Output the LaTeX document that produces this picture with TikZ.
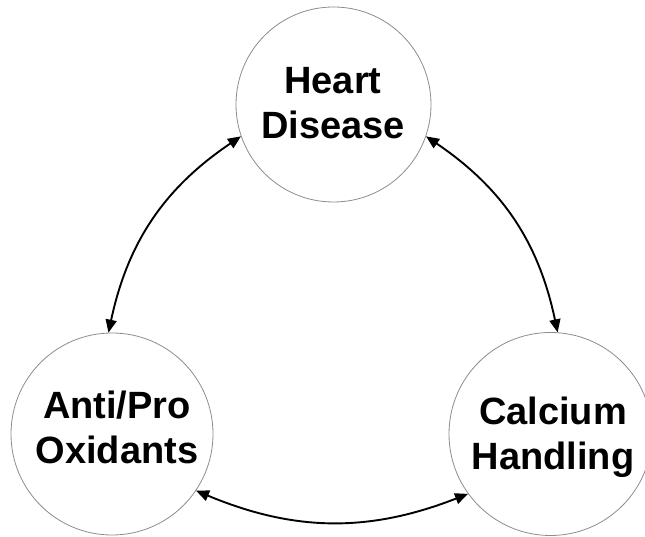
\documentclass[tikz,border=0pt]{standalone}
\usepackage{fontspec}
\setmainfont{Liberation Sans}
\usetikzlibrary{arrows.meta}
\begin{document}
\begin{tikzpicture}[x=1pt,y=1pt,
  bubble/.style={circle,draw=black!45,line width=0.8pt,inner sep=0pt},
  caption/.style={inner sep=0pt,align=center,font=\fontsize{38}{45}\selectfont\bfseries},
  link/.style={{Triangle[length=13pt,width=11pt]}-{Triangle[length=13pt,width=11pt]},line width=1.9pt}]
\useasboundingbox (0,0) rectangle (645,537);
\node[bubble,minimum size=195pt] (hd) at (333.5,432.5) {};
\node[bubble,minimum size=202pt] (ox) at (112,103) {};
\node[bubble,minimum size=203pt] (ca) at (550.5,103) {};
\node[caption] (hdt) at (333,433.8) {Heart\\Disease};
\node[caption] (oxt) at (117,110) {Anti/Pro\\Oxidants};
\node[caption] (cat) at (553,100) {Calcium\\Handling};
\draw[link] (hd.199) to[bend right=22] (ox.92);
\draw[link] (hd.341) to[bend left=22] (ca.86);
\draw[link] (ox.326) to[bend right=22] (ca.216);
\end{tikzpicture}
\end{document}
